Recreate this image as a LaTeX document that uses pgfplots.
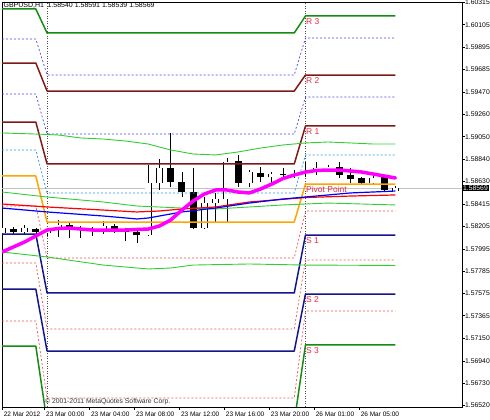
\documentclass[border=0pt]{standalone}
\usepackage{pgfplots}
\usepackage{pgfplotstable}
\pgfplotsset{compat=1.18}
\usepackage{fontspec}
\setmainfont{Liberation Sans}
\definecolor{rgreen}{RGB}{20,140,20}
\definecolor{rmaroon}{RGB}{128,24,24}
\definecolor{snavy}{RGB}{20,20,140}
\definecolor{porange}{RGB}{255,165,0}
\definecolor{mblue}{RGB}{70,70,230}
\definecolor{mlblue}{RGB}{40,150,250}
\definecolor{mred}{RGB}{240,80,80}
\definecolor{bgreen}{RGB}{50,205,50}
\definecolor{lblcol}{RGB}{235,40,70}
\definecolor{pline}{RGB}{195,195,195}
\definecolor{mag}{RGB}{255,0,255}
\pgfplotsset{
  pivsolid/.style={line width=1.5pt, line join=round},
  pivdot/.style={line width=0.7pt, dash pattern=on 2pt off 2pt},
}
\tikzset{lvl/.style={anchor=north west, inner sep=0pt, text=lblcol, font=\fontsize{8.5}{9}\selectfont, yshift=-2pt}}
% candles: i, body low, body high, low, high
\pgfplotstableread{
i lo hi L H
0 1.58144 1.58191 1.58125 1.58210
2 1.58153 1.58191 1.58134 1.58219
4 1.58144 1.58163 1.58115 1.58191
5 1.58181 1.58219 1.58106 1.58266
9 1.58181 1.58210 1.58134 1.58257
13 1.58125 1.58615 1.58115 1.58784
14 1.58615 1.58756 1.58549 1.58841
18 1.58191 1.58426 1.58181 1.58483
19 1.58426 1.58464 1.58247 1.58521
20 1.58464 1.58813 1.58247 1.58851
22 1.58615 1.58718 1.58577 1.58737
24 1.58671 1.58700 1.58615 1.58718
28 1.58737 1.58756 1.58690 1.58813
29 1.58747 1.58765 1.58718 1.58784
33 1.58615 1.58662 1.58605 1.58690
35 1.58540 1.58569 1.58539 1.58591
}\bull
\pgfplotstableread{
i lo hi L H
1 1.58153 1.58181 1.58134 1.58200
3 1.58153 1.58181 1.58134 1.58191
6 1.58181 1.58219 1.58097 1.58247
7 1.58172 1.58181 1.58097 1.58210
8 1.58167 1.58172 1.58115 1.58200
10 1.58181 1.58210 1.58144 1.58229
11 1.58158 1.58163 1.58068 1.58191
12 1.58125 1.58153 1.58050 1.58172
15 1.58624 1.58756 1.58577 1.59086
16 1.58530 1.58624 1.58483 1.58718
17 1.58191 1.58530 1.58181 1.58756
21 1.58615 1.58822 1.58577 1.58879
23 1.58671 1.58709 1.58624 1.58765
25 1.58695 1.58700 1.58671 1.58756
26 1.58681 1.58700 1.58662 1.58737
27 1.58723 1.58728 1.58671 1.58813
30 1.58690 1.58765 1.58662 1.58813
31 1.58652 1.58690 1.58615 1.58756
32 1.58615 1.58662 1.58605 1.58671
34 1.58549 1.58671 1.58530 1.58690
}\bear
\begin{document}
\begin{tikzpicture}[x=1pt,y=1pt]
\useasboundingbox (0,0) rectangle (490,420);
\begin{axis}[
  at={(2pt,13pt)}, anchor=south west,
  scale only axis, width=460pt, height=404.5pt,
  xmin=-0.01, xmax=40.93, ymin=1.56505, ymax=1.60315,
  axis line style={black, line width=0.6pt},
  tick align=outside, major tick length=3pt,
  tick style={black, line width=0.6pt},
  xtick pos=bottom, ytick pos=right,
  xticklabel pos=lower, yticklabel pos=right,
  xtick={0,3.77,7.77,11.77,15.77,19.77,23.77,27.77,31.77},
  xticklabels={22 Mar 2012,23 Mar 00:00,23 Mar 04:00,23 Mar 08:00,23 Mar 12:00,23 Mar 16:00,23 Mar 20:00,26 Mar 01:00,26 Mar 05:00},
  ytick={1.56520,1.56730,1.56940,1.57150,1.57365,1.57575,1.57785,1.57995,1.58205,1.58415,1.58630,1.58840,1.59050,1.59260,1.59470,1.59685,1.59895,1.60105,1.60315},
  yticklabels={1.56520,1.56730,1.56940,1.57150,1.57365,1.57575,1.57785,1.57995,1.58205,1.58415,1.58630,1.58840,1.59050,1.59260,1.59470,1.59685,1.59895,1.60105,1.60315},
  ticklabel style={text=black},
  xticklabel style={font=\fontsize{6.5}{7}\selectfont, anchor=north west, inner sep=0pt, xshift=1.5pt, yshift=-1.5pt},
  yticklabel style={font=\fontsize{6.8}{7}\selectfont, anchor=west, inner sep=0pt},
  clip=true,
]
% day separators
\addplot[black!70, line width=0.6pt, dash pattern=on 1pt off 1.5pt] coordinates {(4,1.56505) (4,1.60315)};
\addplot[black!70, line width=0.6pt, dash pattern=on 1pt off 1.5pt] coordinates {(27,1.56505) (27,1.60315)};
% current price line
\addplot[pline, line width=0.6pt] coordinates {(-0.01,1.58569) (40.93,1.58569)};

% candle wicks
\addplot[draw=none, mark=none, error bars/.cd, y dir=plus, y explicit, error mark=none, error bar style={black, line width=0.6pt}]
  table[x=i, y=L, y error expr=\thisrow{H}-\thisrow{L}] {\bull};
\addplot[draw=none, mark=none, error bars/.cd, y dir=plus, y explicit, error mark=none, error bar style={black, line width=0.6pt}]
  table[x=i, y=L, y error expr=\thisrow{H}-\thisrow{L}] {\bear};
% bear bodies (black)
\addplot[draw=none, mark=none, error bars/.cd, y dir=plus, y explicit, error mark=none, error bar style={black, line width=6.9pt}]
  table[x=i, y=lo, y error expr={max(\thisrow{hi}-\thisrow{lo},0.00006)}] {\bear};
% bull bodies (white with black outline)
\addplot[draw=none, mark=none, error bars/.cd, y dir=plus, y explicit, error mark=none, error bar style={black, line width=6.9pt}]
  table[x=i, y expr=\thisrow{lo}-0.00003, y error expr={\thisrow{hi}-\thisrow{lo}+0.00006}] {\bull};
\addplot[draw=none, mark=none, error bars/.cd, y dir=plus, y explicit, error mark=none, error bar style={white, line width=5.7pt}]
  table[x=i, y expr=\thisrow{lo}+0.00003, y error expr={max(\thisrow{hi}-\thisrow{lo}-0.00006,0)}] {\bull};

% pivot levels: (0,A)(3,A)(4,B)(26,B)(27,C)(35,C)
\addplot[pivsolid, rgreen] coordinates {(0,1.60254)(3,1.60254)(4,1.60028)(26,1.60028)(27,1.60188)(35,1.60188)};
\addplot[pivdot, mblue] coordinates {(0,1.59971)(3,1.59971)(4,1.59632)(26,1.59632)(27,1.59981)(35,1.59981)};
\addplot[pivsolid, rmaroon] coordinates {(0,1.59745)(3,1.59745)(4,1.59481)(26,1.59481)(27,1.59632)(35,1.59632)};
\addplot[pivdot, mblue] coordinates {(0,1.59453)(3,1.59453)(4,1.59076)(26,1.59076)(27,1.59425)(35,1.59425)};
\addplot[pivsolid, rmaroon] coordinates {(0,1.59189)(3,1.59189)(4,1.58794)(26,1.58794)(27,1.59152)(35,1.59152)};
\addplot[pivdot, mlblue] coordinates {(0,1.58926)(3,1.58926)(4,1.58521)(26,1.58521)(27,1.58879)(35,1.58879)};
\addplot[pivsolid, porange] coordinates {(0,1.58681)(3,1.58681)(4,1.58247)(26,1.58247)(27,1.58605)(35,1.58605)};
\addplot[pivdot, mred] coordinates {(0,1.58398)(3,1.58398)(4,1.57908)(26,1.57908)(27,1.58351)(35,1.58351)};
\addplot[pivsolid, snavy] coordinates {(0,1.58134)(3,1.58134)(4,1.57579)(26,1.57579)(27,1.58125)(35,1.58125)};
\addplot[pivdot, mred] coordinates {(0,1.57861)(3,1.57861)(4,1.57239)(26,1.57239)(27,1.57889)(35,1.57889)};
\addplot[pivsolid, snavy] coordinates {(0,1.57616)(3,1.57616)(4,1.57032)(26,1.57032)(27,1.57569)(35,1.57569)};
\addplot[pivdot, mred] coordinates {(0,1.57315)(3,1.57315)(4,1.56589)(26,1.56589)(27,1.57409)(35,1.57409)};
\addplot[pivsolid, rgreen] coordinates {(0,1.57079)(3,1.57079)(4,1.56364)(26,1.56364)(27,1.57089)(35,1.57089)};

% bands (green)
\addplot[bgreen, line width=0.9pt] coordinates {(0,1.59086)(3,1.59076)(5,1.59067)(7,1.59039)(9,1.59029)(11,1.59010)(13,1.58982)(15,1.58926)(17,1.58888)(19,1.58879)(21,1.58907)(23,1.58944)(25,1.58973)(27,1.58992)(29,1.59001)(31,1.58992)(33,1.58982)(35,1.58982)};
\addplot[bgreen, line width=0.9pt] coordinates {(0,1.58530)(4,1.58483)(9,1.58436)(12,1.58398)(16,1.58379)(19,1.58370)(22,1.58389)(25,1.58408)(29,1.58426)(32,1.58417)(35,1.58408)};
\addplot[bgreen, line width=0.9pt] coordinates {(0,1.57965)(4,1.57918)(9,1.57842)(13,1.57805)(15,1.57814)(17,1.57842)(22,1.57852)(27,1.57842)(35,1.57838)};
% moving averages
\addplot[red, line width=1.2pt] coordinates {(0,1.58417)(4,1.58389)(9,1.58360)(12,1.58342)(14,1.58351)(16,1.58370)(19,1.58389)(22,1.58436)(27,1.58478)(31,1.58492)(35,1.58502)};
\addplot[blue, line width=1.2pt] coordinates {(0,1.58379)(4,1.58342)(9,1.58304)(12,1.58276)(13,1.58285)(16,1.58342)(19,1.58379)(22,1.58426)(25,1.58464)(27,1.58483)(31,1.58521)(35,1.58539)};
\addplot[mag, line width=3.5pt, line join=round, line cap=round] coordinates {(0,1.57965)(1,1.58012)(2,1.58059)(3,1.58116)(4,1.58172)(5,1.58186)(6,1.58191)(7,1.58181)(8,1.58172)(9,1.58172)(10,1.58172)(11,1.58172)(12,1.58177)(13,1.58181)(14,1.58210)(15,1.58266)(16,1.58360)(17,1.58445)(18,1.58511)(19,1.58549)(20,1.58549)(21,1.58530)(22,1.58521)(23,1.58558)(24,1.58605)(25,1.58657)(26,1.58690)(27,1.58718)(28,1.58733)(29,1.58737)(30,1.58737)(31,1.58728)(32,1.58718)(33,1.58700)(34,1.58681)(35,1.58662)};

% level labels
\node[lvl] at (axis cs:27.04,1.60188) {R 3};
\node[lvl] at (axis cs:27.04,1.59632) {R 2};
\node[lvl] at (axis cs:27.04,1.59152) {R 1};
\node[lvl] at (axis cs:27.04,1.58605) {Pivot Point};
\node[lvl] at (axis cs:27.04,1.58125) {S 1};
\node[lvl] at (axis cs:27.04,1.57569) {S 2};
\node[lvl] at (axis cs:27.04,1.57089) {S 3};
\node[anchor=west, inner sep=0pt, font=\fontsize{7}{8}\selectfont] at (rel axis cs:0.003,0.9914) {GBPUSD,H1\enspace 1.58540 1.58591 1.58539 1.58569};
\node[anchor=west, inner sep=0pt, font=\fontsize{6.8}{8}\selectfont, text=black!80] at (rel axis cs:0.0935,0.0124) {\textcopyright\ 2001-2011 MetaQuotes Software Corp.};
\coordinate (plast) at (axis cs:40.93,1.58569);
\end{axis}
\node[anchor=west, fill=black, text=white, inner xsep=1pt, inner ysep=0.6pt, font=\fontsize{6.8}{7}\selectfont] at (plast) {1.58569};
\end{tikzpicture}
\end{document}
